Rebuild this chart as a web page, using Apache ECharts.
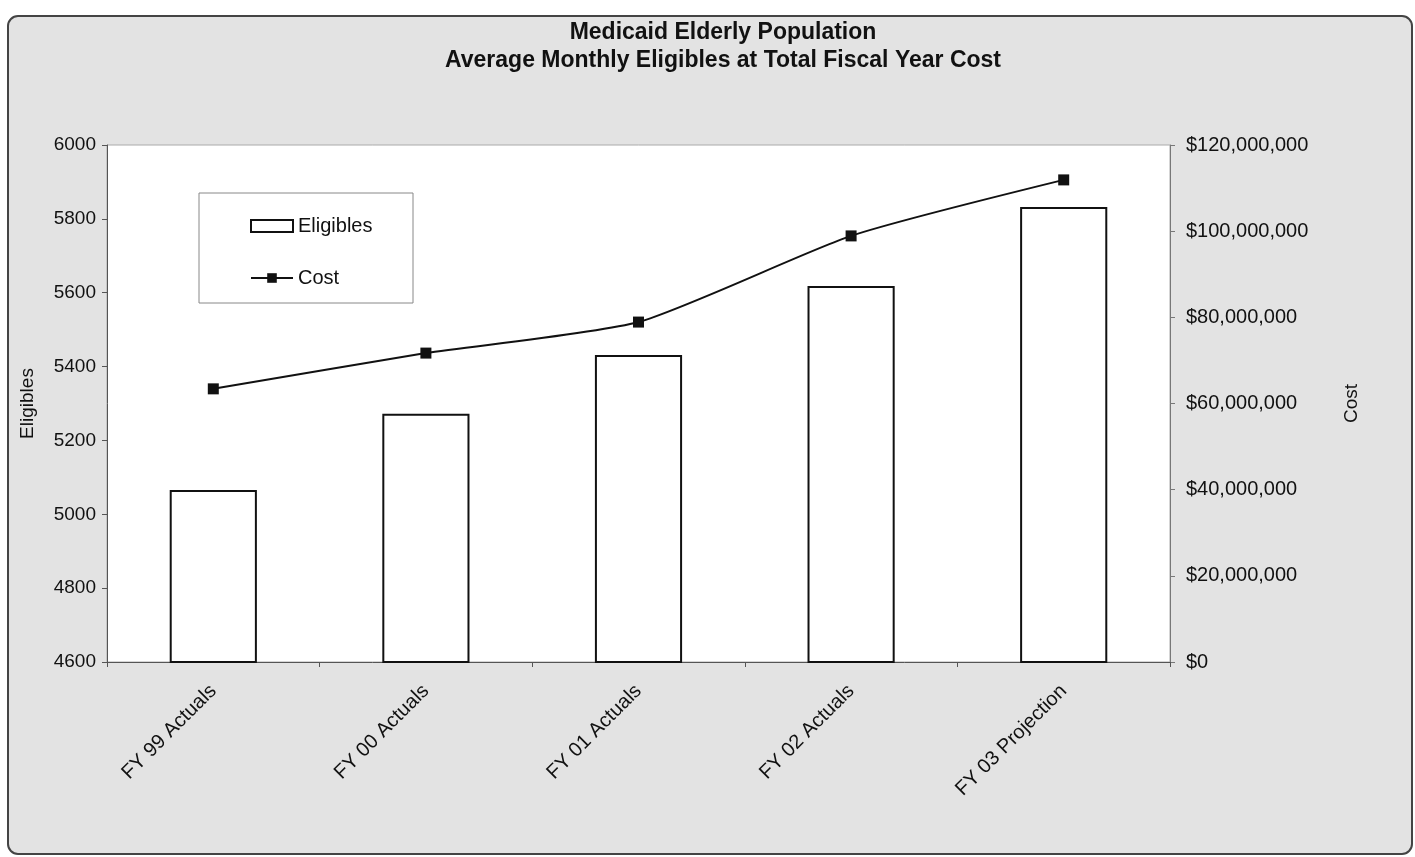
<!DOCTYPE html>
<html>
<head>
<meta charset="utf-8">
<script src="https://cdn.jsdelivr.net/npm/echarts@6/dist/echarts.min.js"></script>
<style>
  html, body { margin: 0; padding: 0; background: #fff; }
  #chart { width: 1415px; height: 857px; }
</style>
</head>
<body>
<div id="chart"></div>
<script>
var categories = ["FY 99 Actuals", "FY 00 Actuals", "FY 01 Actuals", "FY 02 Actuals", "FY 03 Projection"]
var eligibles = [5066, 5272, 5431, 5618, 5832]
var cost = [63400000, 71700000, 78900000, 98900000, 111900000]
var eligibleTicks = [4600, 6000, 200]
var costTicks = [0, 120000000, 20000000]

var font = "Liberation Sans, Arial, sans-serif"

var chart = echarts.init(document.getElementById("chart"))
chart.setOption({
  animation: false,
  backgroundColor: "#fff",
  textStyle: { fontFamily: font },
  graphic: [
    {
      type: "rect",
      z: -10,
      shape: { x: 8, y: 16, width: 1404, height: 838, r: 10 },
      style: { fill: "#e3e3e3", stroke: "#444", lineWidth: 2 }
    },
    {
      type: "rect",
      z: 10,
      shape: { x: 199, y: 193, width: 214, height: 110 },
      style: { fill: "#fff", stroke: "#888", lineWidth: 1 }
    }
  ],
  title: {
    text: "Medicaid Elderly Population\nAverage Monthly Eligibles at Total Fiscal Year Cost",
    left: 718,
    textAlign: "center",
    top: 14,
    textStyle: { fontSize: 23, fontWeight: "bold", color: "#111", lineHeight: 28, fontFamily: font }
  },
  legend: {
    left: 245,
    top: 211,
    orient: "vertical",
    itemGap: 32,
    itemWidth: 42,
    itemHeight: 12,
    z: 20,
    textStyle: { fontSize: 20, color: "#111", fontFamily: font, padding: [0, 0, 0, 0] },
    data: [{ name: "Eligibles", icon: "rect" }, { name: "Cost" }]
  },
  grid: {
    left: 107, right: 245, top: 145, bottom: 195,
    show: true, backgroundColor: "#fff", borderColor: "#aaa", borderWidth: 1
  },
  xAxis: {
    type: "category",
    data: categories,
    axisLine: { lineStyle: { color: "#555", width: 1 } },
    axisTick: { show: true, length: 5, lineStyle: { color: "#555" } },
    axisLabel: { rotate: 45, fontSize: 20, color: "#111", margin: 26 }
  },
  yAxis: [
    {
      type: "value",
      name: "Eligibles",
      nameLocation: "middle",
      nameGap: 70,
      nameRotate: 90,
      nameTextStyle: { fontSize: 19, color: "#111" },
      min: eligibleTicks[0], max: eligibleTicks[1], interval: eligibleTicks[2],
      axisLine: { show: true, lineStyle: { color: "#555" } },
      axisTick: { show: true, length: 5, lineStyle: { color: "#555" } },
      splitLine: { show: false },
      axisLabel: { fontSize: 19, color: "#111", margin: 11, formatter: function (v) { return String(v) } }
    },
    {
      type: "value",
      name: "Cost",
      nameLocation: "middle",
      nameGap: 172,
      nameRotate: 90,
      nameTextStyle: { fontSize: 19, color: "#111" },
      min: costTicks[0], max: costTicks[1], interval: costTicks[2],
      axisLine: { show: true, lineStyle: { color: "#777" } },
      axisTick: { show: true, length: 5, lineStyle: { color: "#777" } },
      splitLine: { show: false },
      axisLabel: {
        fontSize: 20, color: "#111", margin: 16,
        formatter: function (v) { return "$" + v.toLocaleString("en-US") }
      }
    }
  ],
  series: [
    {
      name: "Eligibles",
      type: "bar",
      data: eligibles,
      barWidth: "41%",
      itemStyle: { color: "#fff", borderColor: "#111", borderWidth: 2 }
    },
    {
      name: "Cost",
      type: "line",
      yAxisIndex: 1,
      data: cost,
      smooth: 0.2,
      symbol: "rect",
      symbolSize: 11,
      itemStyle: { color: "#111" },
      lineStyle: { color: "#111", width: 2 }
    }
  ]
})
</script>
</body>
</html>
